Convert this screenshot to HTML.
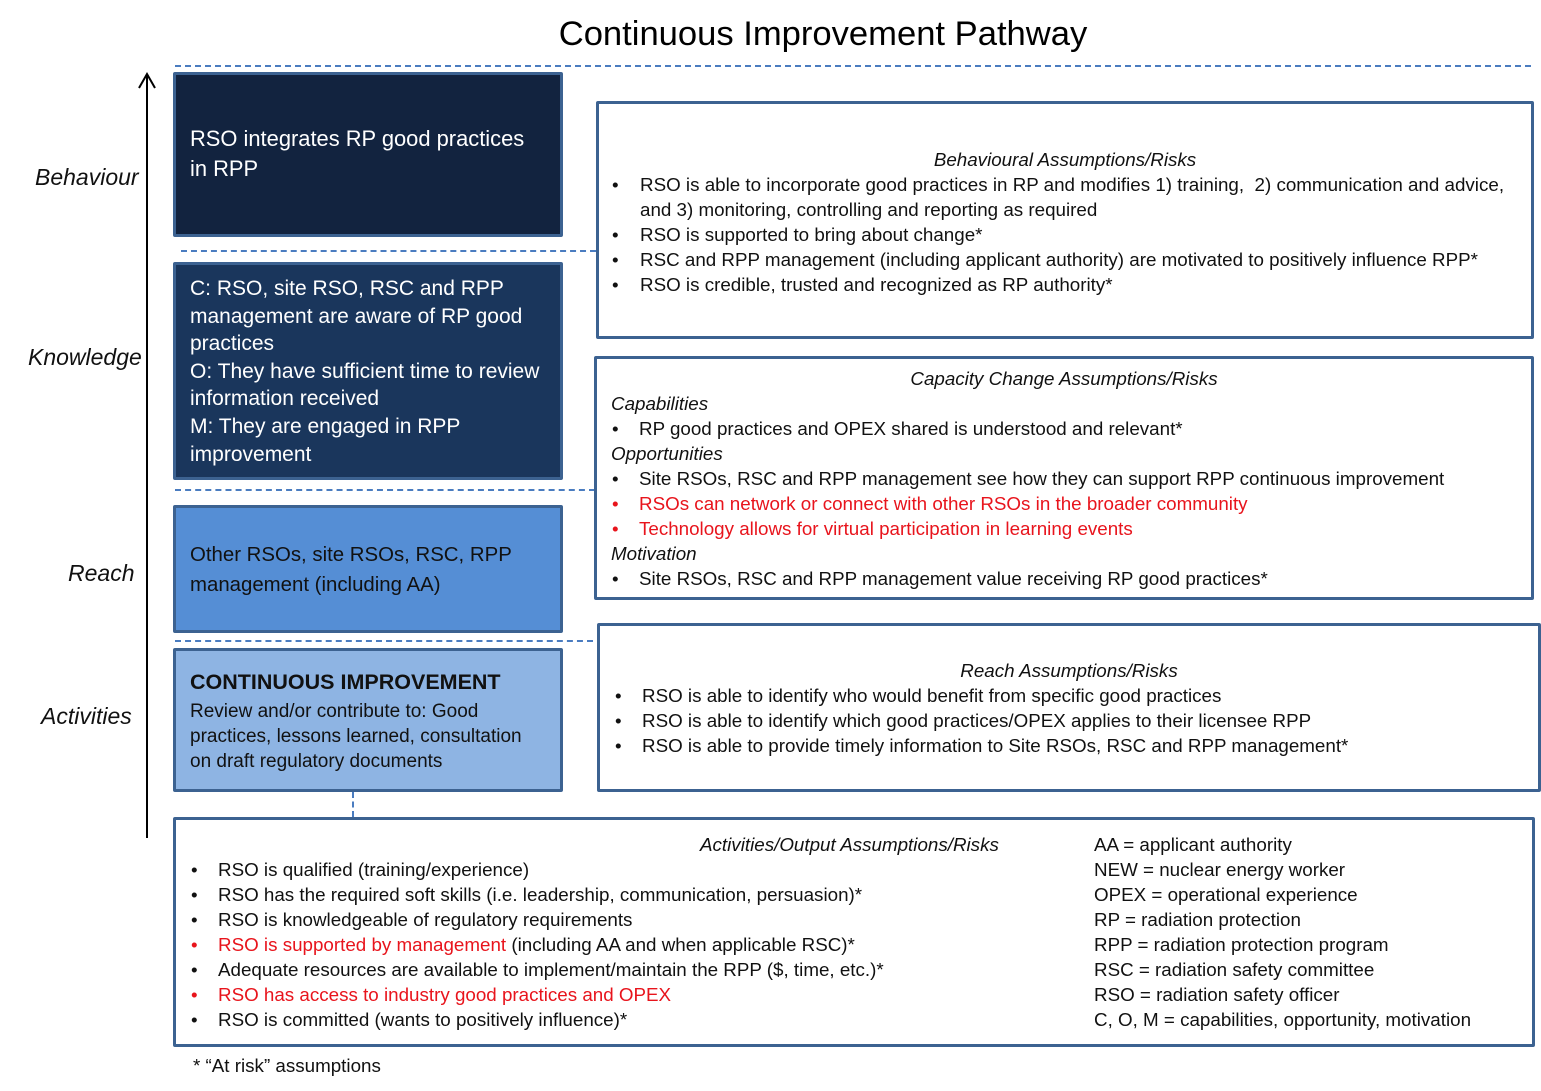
<!DOCTYPE html>
<html><head><meta charset="utf-8"><style>
body{margin:0;width:1541px;height:1091px;background:#fff;position:relative;overflow:hidden;font-family:"Liberation Sans",sans-serif;}
.a{position:absolute;white-space:nowrap;}
.box{position:absolute;box-sizing:border-box;border:3px solid #3c6291;border-radius:2px;}
.dh{position:absolute;border-top:2px dashed #4a7cc0;height:0;}
.t{position:absolute;white-space:nowrap;font-size:18.8px;color:#111;line-height:25px;}
.i{font-style:italic;}
.r{color:#e8141c;}
.lab{position:absolute;font-style:italic;font-size:23px;color:#111;white-space:nowrap;}
.w{color:#fff;}
</style></head><body>
<div class="a" style="left:0;width:1646px;text-align:center;top:15px;font-size:34.6px;color:#000">Continuous Improvement Pathway</div>
<div class="dh" style="left:175px;width:1356px;top:65px"></div>
<svg class="a" style="left:135px;top:70px" width="25" height="772"><line x1="12" y1="4" x2="12" y2="768" stroke="#000" stroke-width="2"/><polyline points="4,18 12,4 20,18" fill="none" stroke="#000" stroke-width="2"/></svg>
<div class="lab" style="left:35px;top:164px">Behaviour</div>
<div class="lab" style="left:28px;top:344px">Knowledge</div>
<div class="lab" style="left:68px;top:560px">Reach</div>
<div class="lab" style="left:41px;top:703px">Activities</div>

<div class="box" style="left:173px;top:72px;width:390px;height:165px;background:#12233f"></div>
<div class="t w" style="left:190px;top:124px;font-size:21.9px;line-height:30px">RSO integrates RP good practices<br>in RPP</div>
<div class="dh" style="left:181px;width:415px;top:250px"></div>

<div class="box" style="left:173px;top:262px;width:390px;height:218px;background:#1a365c"></div>
<div class="t w" style="left:190px;top:275px;font-size:21px;line-height:27.6px">C: RSO, site RSO, RSC and RPP<br>management are aware of RP good<br>practices<br>O: They have sufficient time to review<br>information received<br>M: They are engaged in RPP<br>improvement</div>
<div class="dh" style="left:175px;width:420px;top:489px"></div>

<div class="box" style="left:173px;top:505px;width:390px;height:128px;background:#558ed5"></div>
<div class="t" style="left:190px;top:540px;font-size:20.4px;line-height:30px">Other RSOs, site RSOs, RSC, RPP<br>management (including AA)</div>
<div class="dh" style="left:175px;width:418px;top:640px"></div>

<div class="box" style="left:173px;top:648px;width:390px;height:144px;background:#8eb4e3"></div>
<div class="t" style="left:190px;top:670px;font-size:21.5px;font-weight:bold">CONTINUOUS IMPROVEMENT</div>
<div class="t" style="left:190px;top:699px;font-size:19px">Review and/or contribute to: Good<br>practices, lessons learned, consultation<br>on draft regulatory documents</div>
<div class="a" style="left:352px;top:792px;height:25px;border-left:2px dashed #4a7cc0"></div>

<div class="box" style="left:596px;top:101px;width:938px;height:238px"></div>
<div class="t i" style="left:597px;width:936px;text-align:center;top:147px">Behavioural Assumptions/Risks</div>
<div class="t" style="left:612px;top:172px">•</div>
<div class="t" style="left:640px;top:172px">RSO is able to incorporate good practices in RP and modifies 1) training,&nbsp; 2) communication and advice,<br>and 3) monitoring, controlling and reporting as required</div>
<div class="t" style="left:612px;top:222px">•</div><div class="t" style="left:640px;top:222px">RSO is supported to bring about change*</div>
<div class="t" style="left:612px;top:247px">•</div><div class="t" style="left:640px;top:247px">RSC and RPP management (including applicant authority) are motivated to positively influence RPP*</div>
<div class="t" style="left:612px;top:272px">•</div><div class="t" style="left:640px;top:272px">RSO is credible, trusted and recognized as RP authority*</div>

<div class="box" style="left:594px;top:356px;width:940px;height:244px"></div>
<div class="t i" style="left:594px;width:940px;text-align:center;top:366px">Capacity Change Assumptions/Risks</div>
<div class="t i" style="left:611px;top:391px">Capabilities</div>
<div class="t" style="left:612px;top:416px">•</div><div class="t" style="left:639px;top:416px">RP good practices and OPEX shared is understood and relevant*</div>
<div class="t i" style="left:611px;top:441px">Opportunities</div>
<div class="t" style="left:612px;top:466px">•</div><div class="t" style="left:639px;top:466px">Site RSOs, RSC and RPP management see how they can support RPP continuous improvement</div>
<div class="t r" style="left:612px;top:491px">•</div><div class="t r" style="left:639px;top:491px">RSOs can network or connect with other RSOs in the broader community</div>
<div class="t r" style="left:612px;top:516px">•</div><div class="t r" style="left:639px;top:516px">Technology allows for virtual participation in learning events</div>
<div class="t i" style="left:611px;top:541px">Motivation</div>
<div class="t" style="left:612px;top:566px">•</div><div class="t" style="left:639px;top:566px">Site RSOs, RSC and RPP management value receiving RP good practices*</div>

<div class="box" style="left:597px;top:623px;width:944px;height:169px"></div>
<div class="t i" style="left:597px;width:944px;text-align:center;top:658px">Reach Assumptions/Risks</div>
<div class="t" style="left:615px;top:683px">•</div><div class="t" style="left:642px;top:683px">RSO is able to identify who would benefit from specific good practices</div>
<div class="t" style="left:615px;top:708px">•</div><div class="t" style="left:642px;top:708px">RSO is able to identify which good practices/OPEX applies to their licensee RPP</div>
<div class="t" style="left:615px;top:733px">•</div><div class="t" style="left:642px;top:733px">RSO is able to provide timely information to Site RSOs, RSC and RPP management*</div>

<div class="box" style="left:173px;top:817px;width:1362px;height:230px"></div>
<div class="t i" style="left:700px;top:832px">Activities/Output Assumptions/Risks</div>
<div class="t" style="left:191px;top:857px">•</div><div class="t" style="left:218px;top:857px">RSO is qualified (training/experience)</div>
<div class="t" style="left:191px;top:882px">•</div><div class="t" style="left:218px;top:882px">RSO has the required soft skills (i.e. leadership, communication, persuasion)*</div>
<div class="t" style="left:191px;top:907px">•</div><div class="t" style="left:218px;top:907px">RSO is knowledgeable of regulatory requirements</div>
<div class="t r" style="left:191px;top:932px">•</div><div class="t" style="left:218px;top:932px"><span class="r">RSO is supported by management</span> (including AA and when applicable RSC)*</div>
<div class="t" style="left:191px;top:957px">•</div><div class="t" style="left:218px;top:957px">Adequate resources are available to implement/maintain the RPP ($, time, etc.)*</div>
<div class="t r" style="left:191px;top:982px">•</div><div class="t r" style="left:218px;top:982px">RSO has access to industry good practices and OPEX</div>
<div class="t" style="left:191px;top:1007px">•</div><div class="t" style="left:218px;top:1007px">RSO is committed (wants to positively influence)*</div>
<div class="t" style="left:1094px;top:832px">AA = applicant authority<br>NEW = nuclear energy worker<br>OPEX = operational experience<br>RP = radiation protection<br>RPP = radiation protection program<br>RSC = radiation safety committee<br>RSO = radiation safety officer<br>C, O, M = capabilities, opportunity, motivation</div>
<div class="t" style="left:193px;top:1053px">* “At risk” assumptions</div>
</body></html>
